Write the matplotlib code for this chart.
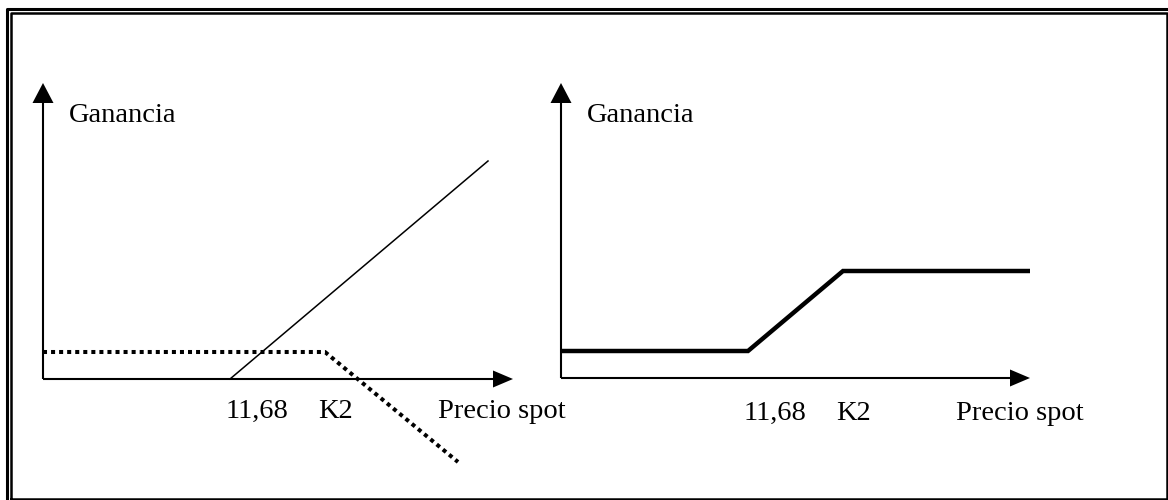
import matplotlib.pyplot as plt
from matplotlib.lines import Line2D

plt.rcParams['font.family'] = ['Liberation Serif', 'DejaVu Serif']

# schematic payoff data, in panel units (origin where the axes cross)
K1 = 187   # strike labelled 11,68
K2 = 282
premium = 27

# left panel: long call at K1 (solid) and short call at K2 (dotted)
long_call_spot = [K1, 445]
long_call_profit = [0, 218]
short_call_spot = [0, K2, 415]
short_call_profit = [premium, premium, -83]

# right panel: the combined spread
spread_spot = [0, K1, K2, 469]
spread_profit = [premium, premium, 107, 107]

tick_texts = ['11,68', 'K2']
xlabel = 'Precio spot'
ylabel = 'Ganancia'

W, H = 1168, 500
fig = plt.figure(figsize=(W / 100, H / 100), dpi=100)

# double frame round the whole picture
bg = fig.add_axes([0, 0, 1, 1])
bg.set_xlim(0, W)
bg.set_ylim(H, 0)
bg.axis('off')
bg.add_line(Line2D([7, 7, W + 10], [H + 10, 9, 9], color='k', lw=2.2))
bg.add_line(Line2D([11, 11, 1166.5, 1166.5, 11], [499, 13, 13, 499, 499], color='k', lw=1.8))


def panel(ox, oy, x_tip, y_tip, lab_y):
    # axes whose units are pixels measured from the origin (ox, oy)
    x0, x1 = -40, 500
    y0, y1 = -100, 310
    ax = fig.add_axes([(ox + x0) / W, (H - oy + y0) / H, (x1 - x0) / W, (y1 - y0) / H])
    ax.set_xlim(x0, x1)
    ax.set_ylim(y0, y1)
    ax.axis('off')

    # axes with filled arrow heads
    ax.plot([0, x_tip - 18], [0, 0], color='k', lw=1.5, solid_capstyle='butt')
    ax.plot([0, 0], [0, y_tip - 18], color='k', lw=1.5, solid_capstyle='butt')
    ax.fill([x_tip - 20, x_tip, x_tip - 20], [8.5, 0, -8.5], color='k', lw=0)
    ax.fill([-10.5, 0, 10.5], [y_tip - 20, y_tip, y_tip - 20], color='k', lw=0)

    ax.text(26, 257 - (379 - oy), ylabel, fontsize=20.5, ha='left', va='baseline')
    ax.text(183, lab_y, tick_texts[0], fontsize=20.5, ha='left', va='baseline')
    ax.text(275, lab_y, tick_texts[1], fontsize=20.5, ha='left', va='baseline')
    ax.text(395, lab_y, xlabel, fontsize=20.5, ha='left', va='baseline')
    return ax


left = panel(43, 379, 470, 296, -39)
left.plot(long_call_spot, long_call_profit, color='k', lw=1.1)
left.plot(short_call_spot, short_call_profit, color='k', lw=2.9,
          linestyle=(0, (1, 1)), dash_capstyle='butt')

right = panel(561, 378, 469, 295, -42)
right.plot(spread_spot, spread_profit, color='k', lw=3.2,
           solid_joinstyle='miter', solid_capstyle='butt')

fig.savefig('out.png', dpi=100)
